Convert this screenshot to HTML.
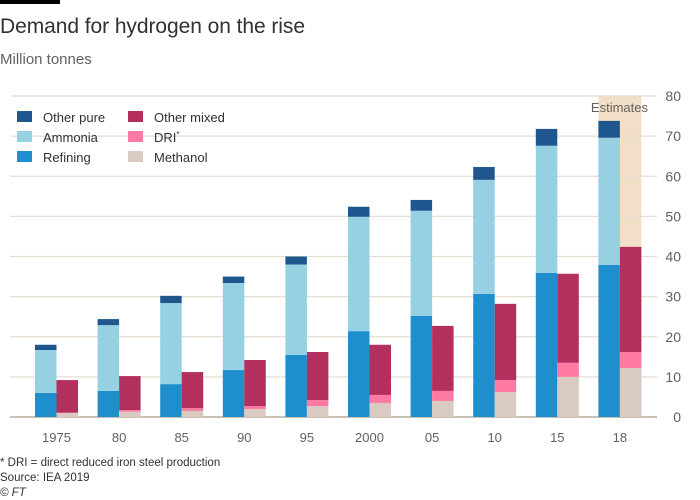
<!DOCTYPE html>
<html><head><meta charset="utf-8"><style>
body{margin:0;background:#fff;font-family:"Liberation Sans",sans-serif;}
#c{position:relative;width:700px;height:500px;overflow:hidden;}
</style></head><body>
<div id="c">
<svg id="s" width="700" height="500">
<rect x="0" y="0" width="60" height="4" fill="#000"/>
<text x="0" y="33" font-size="21" fill="#33302e" textLength="305">Demand for hydrogen on the rise</text>
<text x="0" y="64" font-size="15" fill="#66605c">Million tonnes</text>
<g id="grid"></g>
<g id="bars"></g>
<g id="axes"></g>
<g font-size="13" fill="#33302e">
<rect x="17" y="111" width="15" height="11" fill="#1f568e"/>
<text x="43" y="122">Other pure</text>
<rect x="17" y="131" width="15" height="11" fill="#96d0e3"/>
<text x="43" y="142">Ammonia</text>
<rect x="17" y="151" width="15" height="11" fill="#1e8fcc"/>
<text x="43" y="162">Refining</text>
<rect x="128" y="111" width="15" height="11" fill="#b3305e"/>
<text x="154" y="122">Other mixed</text>
<rect x="128" y="131" width="15" height="11" fill="#ff7aa3"/>
<text x="154" y="142">DRI<tspan font-size="8" dy="-5">*</tspan></text>
<rect x="128" y="151" width="15" height="11" fill="#d9cbc1"/>
<text x="154" y="162">Methanol</text>
</g>
<text x="0" y="466" font-size="11.5" fill="#33302e">* DRI = direct reduced iron steel production</text>
<text x="0" y="481" font-size="11.5" fill="#33302e">Source: IEA 2019</text>
<text x="0" y="496" font-size="11.5" fill="#33302e" font-style="italic">© FT</text>
</svg>
</div>
<script>
const categories=["1975","80","85","90","95","2000","05","10","15","18"];
const refining=[6.0,6.5,8.2,11.7,15.5,21.4,25.2,30.7,35.9,37.9];
const ammonia=[10.7,16.4,20.2,21.7,22.5,28.5,26.2,28.4,31.7,31.7];
const otherPure=[1.3,1.5,1.8,1.6,2.0,2.5,2.7,3.2,4.2,4.2];
const methanol=[1.0,1.3,1.5,2.0,2.7,3.5,4.0,6.2,10.0,12.2];
const dri=[0.1,0.4,0.7,0.7,1.5,2.0,2.5,3.0,3.5,4.0];
const otherMixed=[8.1,8.5,9.0,11.5,12.0,12.5,16.2,19.0,22.2,26.2];
const yTicks=[0,10,20,30,40,50,60,70,80];
const NS="http://www.w3.org/2000/svg";
const y0=417,yTop=96,yMax=80;
function yS(v){return y0-(v/yMax)*(y0-yTop);}
function xS(i){return 35+i*62.6;}
const bw=21.5;
function mk(tag,attrs,parent){const e=document.createElementNS(NS,tag);for(const k in attrs)e.setAttribute(k,attrs[k]);parent.appendChild(e);return e;}
const grid=document.getElementById('grid'),bars=document.getElementById('bars'),axes=document.getElementById('axes');
const band=mk('rect',{x:xS(9),y:yTop,width:bw*2,height:y0-yTop,fill:'#f2dfc7'},grid);


yTicks.forEach(t=>{
 const l=mk('line',{x1:10,x2:657,y1:yS(t),y2:yS(t),stroke:t===0?'#c8bfb5':'#e6ddd3','stroke-width':t===0?2:1.2},grid);
 
 
 const tx=mk('text',{x:681,y:yS(t)+5,'font-size':14,fill:'#66605c','text-anchor':'end'},axes);
 tx.textContent=t;
 
 
});
const est=mk('text',{x:648,y:112,'font-size':13,fill:'#66605c','text-anchor':'end'},axes);
est.textContent='Estimates';


function stack(i,x,series){
 let acc=0;
 series.forEach(s=>{
  const v=s.vals[i];
  const r=mk('rect',{x:x,y:yS(acc+v),width:bw,height:yS(acc)-yS(acc+v),fill:s.col},bars);
  
  
  acc+=v;
 });
}
categories.forEach((c,i)=>{
 const x=xS(i);
 stack(i,x,[{vals:refining,col:'#1e8fcc',name:'refining'},{vals:ammonia,col:'#96d0e3',name:'ammonia'},{vals:otherPure,col:'#1f568e',name:'other-pure'}]);
 stack(i,x+bw,[{vals:methanol,col:'#d9cbc1',name:'methanol'},{vals:dri,col:'#ff7aa3',name:'dri'},{vals:otherMixed,col:'#b3305e',name:'other-mixed'}]);
 const t=mk('text',{x:x+bw,y:442,'font-size':13,fill:'#66605c','text-anchor':'middle'},axes);
 t.textContent=c;
 
 
});
</script>
</body></html>
